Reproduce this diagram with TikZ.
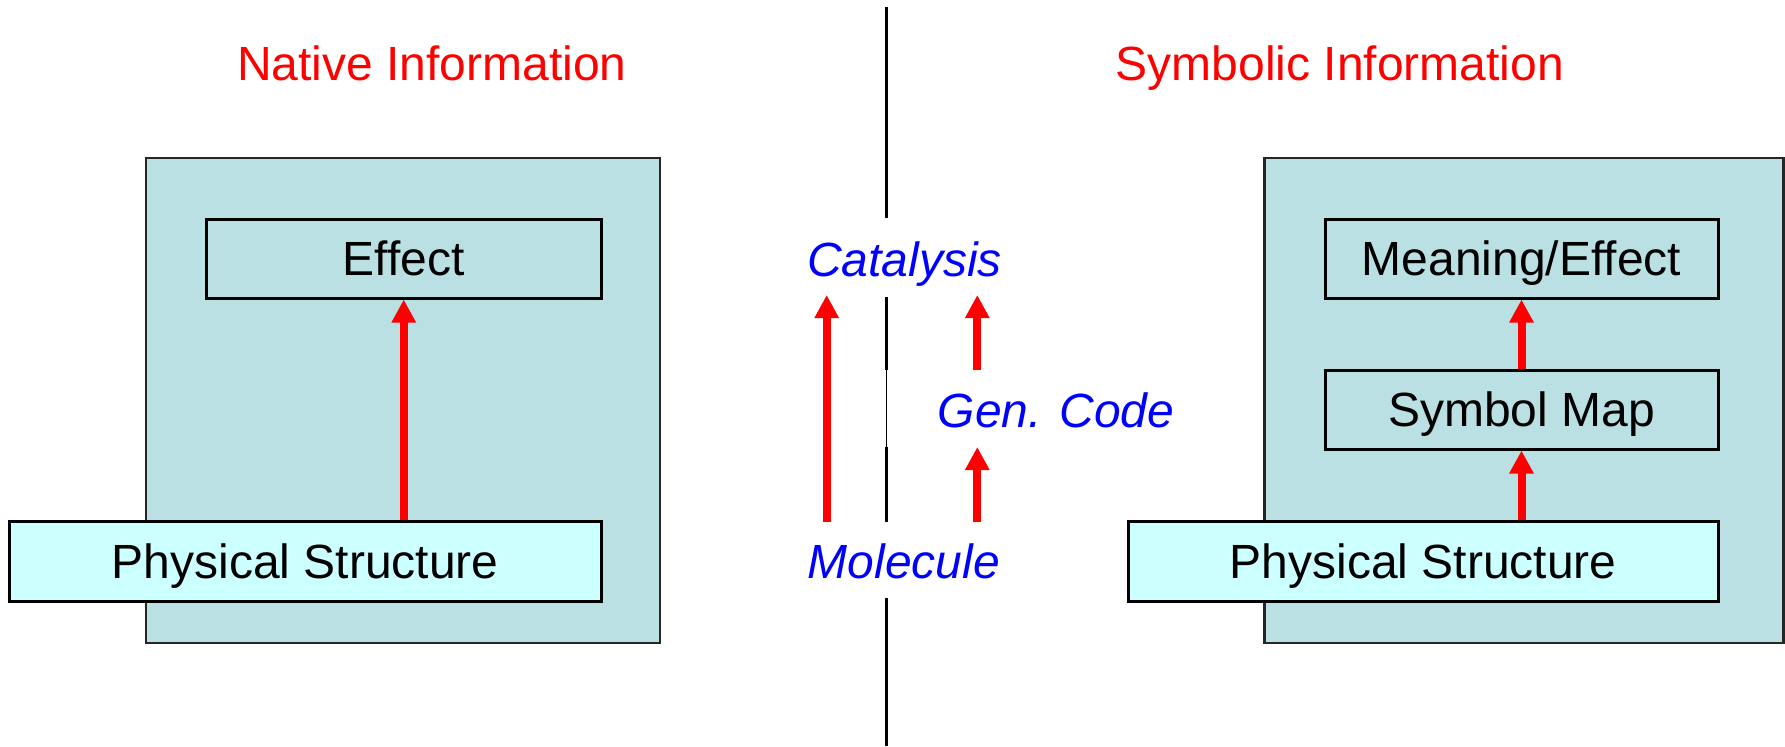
\documentclass[tikz,border=0pt]{standalone}
\usepackage{fontspec}
\setmainfont{Liberation Sans}
\usetikzlibrary{arrows.meta}
\definecolor{panelfill}{RGB}{186,224,227}
\definecolor{physfill}{RGB}{204,255,255}
\begin{document}
\begin{tikzpicture}[x=0.5pt,y=-0.5pt,
  panel/.style={draw=black!85, line width=1.2pt, fill=panelfill, inner sep=0pt},
  labelbox/.style={draw=black, line width=1.5pt, fill=panelfill, inner sep=0pt, text height=17.2pt, text depth=0pt, font=\fontsize{24}{28}\selectfont},
  physbox/.style={labelbox, fill=physfill},
  redarrow/.style={draw=red, line width=4pt, -{Triangle[width=11.5pt,length=11.5pt]}},
  titletext/.style={text=red, font=\fontsize{24}{28}\selectfont, inner sep=0pt},
  midlabel/.style={text=blue, font=\fontsize{24}{28}\selectfont\itshape, inner sep=0pt},
  divider/.style={draw=black, line width=1.5pt}]
\useasboundingbox (0,0) rectangle (1785,746);

% titles
\node[titletext, anchor=base] (tnative) at (432,80) {Native Information};
\node[titletext, anchor=base] (tsymb) at (1340,80) {Symbolic Information};

% divider
\draw[divider] (886.7,7) -- (886.7,218);
\draw[divider] (886.7,297) -- (886.7,370);
\draw[draw=black, line width=0.8pt] (886.3,370) -- (886.3,447);
\draw[divider] (886.7,447) -- (886.7,522);
\draw[divider] (886.7,598) -- (886.7,746);

% left panel
\node[panel, minimum width=257pt, minimum height=242.5pt] (outerL) at (403,400.5) {};
\node[labelbox, minimum width=197.25pt, minimum height=39.5pt] (effect) at (403.75,258.5) {Effect};
\node[physbox, minimum width=295.7pt, minimum height=40pt] (physL) at (305.3,561) {Physical Structure};
\draw[redarrow] (effect.south |- physL.north) -- (effect.south);

% right panel
\node[panel, minimum width=259.5pt, minimum height=242.5pt] (outerR) at (1524,400.5) {};
\node[labelbox, minimum width=196.5pt, minimum height=39.5pt] (meaning) at (1521.5,258.5) {Meaning/Effect};
\node[labelbox, minimum width=196.5pt, minimum height=39.5pt] (symbol) at (1521.5,409.5) {Symbol Map};
\node[physbox, minimum width=294.75pt, minimum height=40pt] (physR) at (1423.25,561) {Physical Structure};
\draw[redarrow] (symbol.south |- physR.north) -- (symbol.south);
\draw[redarrow] (symbol.north) -- (meaning.south);

% middle
\node[midlabel, anchor=base] (catal) at (904.5,276) {Catalysis};
\node[midlabel, anchor=base] (gencode) at (1056,427.7) {Gen. Code};
\node[midlabel, anchor=base] (molec) at (904,578) {Molecule};
\coordinate (molL) at (826.7,522);
\coordinate (catL) at (826.7,295);
\coordinate (molR) at (977.3,522);
\coordinate (genB) at (977.3,447);
\coordinate (genT) at (977.3,370);
\coordinate (catR) at (977.3,295);
\draw[redarrow] (molL) -- (catL);
\draw[redarrow] (molR) -- (genB);
\draw[redarrow] (genT) -- (catR);
\end{tikzpicture}
\end{document}
